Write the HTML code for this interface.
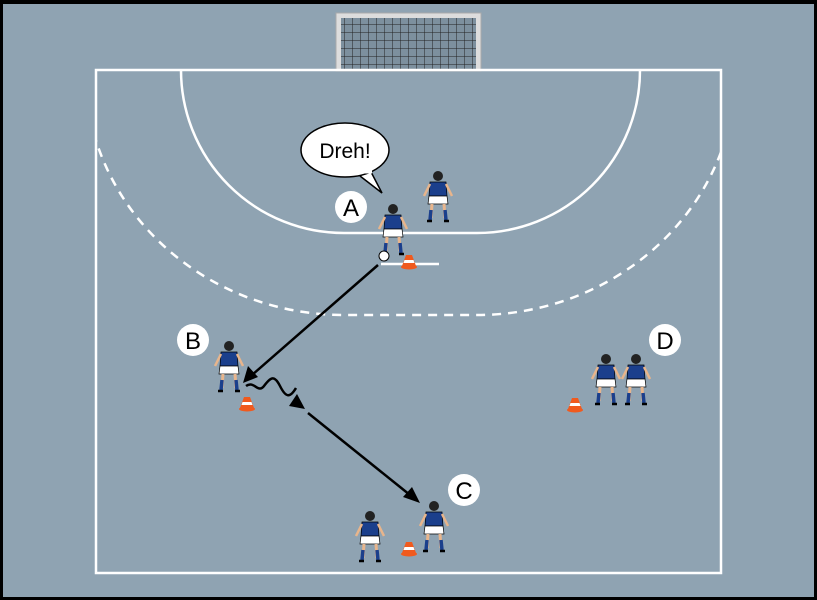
<!DOCTYPE html>
<html><head><meta charset="utf-8"><style>
html,body{margin:0;padding:0;background:#000;}
svg{display:block;font-family:"Liberation Sans","DejaVu Sans",sans-serif;}
</style></head><body>
<svg width="817" height="600" viewBox="0 0 817 600" xmlns="http://www.w3.org/2000/svg">
<defs>
<clipPath id="court"><rect x="96" y="70" width="625" height="503"/></clipPath>
<pattern id="net" width="8" height="8" patternUnits="userSpaceOnUse"><path d="M0 0H8M0 0V8" stroke="#222" stroke-width="1" fill="none"/></pattern>
<g id="cone"><path d="M-3 -8 L3 -8 L7 3 L-7 3Z" fill="#f05a1e"/><path d="M-4.5 -3 L4.5 -3 L5.5 0 L-5.5 0Z" fill="#fff"/><ellipse cx="0" cy="4" rx="8" ry="2.5" fill="#f05a1e"/></g>
<g id="pl">
<circle cx="0" cy="-24" r="5" fill="#222"/>
<path d="M-8 -18 L8 -18 L9 -4 L-9 -4Z" fill="#1b3f8c" stroke="#000" stroke-width="0.7"/>
<path d="M-8 -16 L-14 -4 M8 -16 L14 -4" stroke="#e8b58c" stroke-width="2.5"/>
<path d="M-9 -4 L9 -4 L10 4 L-10 4Z" fill="#fff" stroke="#000" stroke-width="0.7"/>
<path d="M-6 4 L-7 18 M6 4 L7 18" stroke="#e8b58c" stroke-width="3"/>
<path d="M-7 10 L-8 20 M7 10 L8 20" stroke="#1b3f8c" stroke-width="3.5"/>
<path d="M-11 21 L-6 21 M6 21 L11 21" stroke="#000" stroke-width="2.5"/>
</g>
</defs>
<rect x="3" y="4" width="811" height="593" fill="#8fa3b2"/>
<!-- goal -->
<rect x="336" y="13" width="145" height="58" fill="#ddd" stroke="#aaa"/>
<rect x="341" y="18" width="135" height="53" fill="#7d909e"/>
<rect x="341" y="18" width="135" height="53" fill="url(#net)"/>
<g fill="none" stroke="#fff" stroke-width="2.5">
<rect x="96" y="70" width="625" height="503"/>
<path d="M181 70 A163 163 0 0 0 344 233 L477 233 A163 163 0 0 0 640 70"/>
<g clip-path="url(#court)"><path d="M85 70 A259 245 0 0 0 344 315 L477 315 A259 245 0 0 0 736 70" stroke-dasharray="9 7"/></g>
<path d="M381 264 H439"/>
</g>
<!-- arrows -->
<g stroke="#000" stroke-width="2.5" fill="none">
<path d="M378 265 L252 375"/>
<path d="M246 386 c8 -6 12 8 18 0 s10 -12 16 0 s10 12 16 2"/>
<path d="M308 413 L410 495"/>
</g>
<path d="M243 383 L248 366 L258 377Z" fill="#000"/>
<path d="M305 409 L289 406 L297 394Z" fill="#000"/>
<path d="M420 503 L403 497 L412 487Z" fill="#000"/>
<!-- speech bubble -->
<path d="M370 170 L382 193 L360 176" fill="#fff" stroke="#000" stroke-width="1.5"/>
<ellipse cx="345" cy="150" rx="44" ry="27" fill="#fff" stroke="#000" stroke-width="1.5"/>
<path d="M362 172 L372 172" stroke="#fff" stroke-width="3"/>
<text x="345" y="158" font-size="21" text-anchor="middle" fill="#000">Dreh!</text>
<!-- cones -->
<use href="#cone" x="409" y="263"/>
<use href="#cone" x="247" y="405"/>
<use href="#cone" x="575" y="406"/>
<use href="#cone" x="409" y="550"/>
<!-- players -->
<use href="#pl" x="438" y="200"/>
<use href="#pl" x="393" y="233"/>
<circle cx="384" cy="256" r="5" fill="#fff" stroke="#000"/>
<use href="#pl" x="229" y="370"/>
<use href="#pl" x="370" y="540"/>
<use href="#pl" x="434" y="530"/>
<use href="#pl" x="606" y="383"/>
<use href="#pl" x="636" y="383"/>
<!-- labels -->
<g font-size="24" text-anchor="middle" fill="#000">
<circle cx="351" cy="207" r="16" fill="#fff"/><text x="351" y="216">A</text>
<circle cx="193" cy="340" r="16" fill="#fff"/><text x="193" y="349">B</text>
<circle cx="464" cy="490" r="16" fill="#fff"/><text x="464" y="499">C</text>
<circle cx="665" cy="340" r="16" fill="#fff"/><text x="665" y="349">D</text>
</g>
</svg>
</body></html>
